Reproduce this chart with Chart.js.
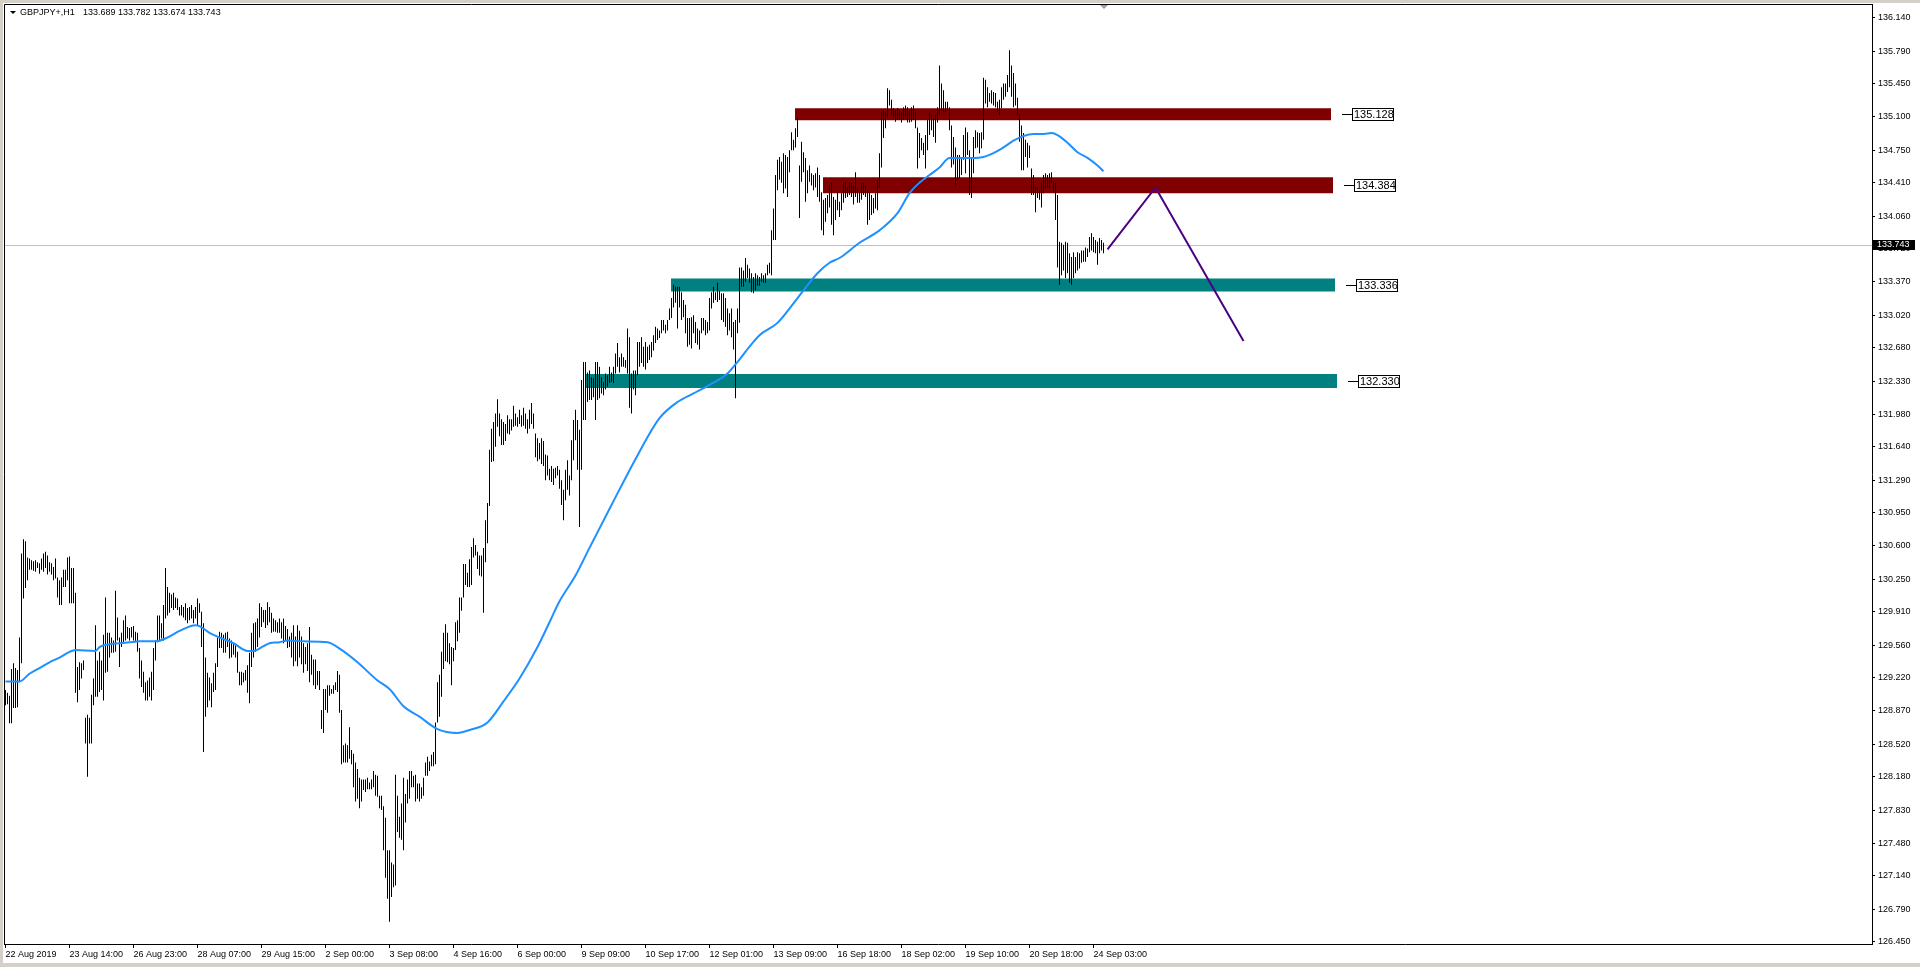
<!DOCTYPE html>
<html>
<head>
<meta charset="utf-8">
<style>
  html, body { margin: 0; padding: 0; background: #fff; overflow: hidden; }
  #wrap { position: absolute; left: 0; top: 0; width: 1920px; height: 967px; }
</style>
</head>
<body>
<div id="wrap"><canvas id="chart" width="1920" height="967"></canvas></div>
<script src="https://cdn.jsdelivr.net/npm/chart.js@4"></script>
<script>
// header values
const symbol = 'GBPJPY+,H1';
const lastOHLC = [133.689, 133.782, 133.674, 133.743];

// H1 bars, high / low read bar by bar
const highs = [
  129.09,129.06,129.03,129.31,129.37,129.32,129.30,129.64,130.52,130.67,
  130.65,130.48,130.47,130.45,130.44,130.45,130.43,130.42,130.47,130.52,
  130.54,130.50,130.43,130.42,130.38,130.47,130.27,130.24,130.27,130.35,
  130.35,130.48,130.49,130.37,130.37,130.11,129.33,129.38,129.37,129.40,
  128.80,128.83,128.80,129.04,129.21,129.77,129.40,129.49,129.40,129.67,
  130.06,129.69,129.69,129.64,129.61,130.13,129.85,129.64,129.69,129.82,
  129.87,129.75,129.74,129.75,129.76,129.70,129.69,129.53,129.40,129.28,
  129.17,129.19,129.22,129.28,129.53,129.61,129.87,129.87,129.79,129.98,
  130.37,130.17,130.11,130.09,130.11,130.06,130.05,129.96,129.98,129.96,
  130.00,129.95,129.96,129.98,129.93,129.96,130.05,130.00,129.91,129.79,
  129.43,129.27,129.22,129.16,129.27,129.37,129.64,129.70,129.69,129.67,
  129.69,129.70,129.63,129.61,129.58,129.56,129.49,129.28,129.28,129.27,
  129.30,129.35,129.48,129.69,129.79,129.80,129.84,130.00,129.96,129.93,
  129.93,130.01,129.96,129.90,129.84,129.82,129.80,129.84,129.80,129.84,
  129.76,129.73,129.65,129.69,129.77,129.65,129.77,129.71,129.65,129.58,
  129.54,129.58,129.75,129.46,129.41,129.41,129.29,129.29,128.88,129.10,
  129.10,129.14,129.14,129.10,129.14,129.17,129.29,129.25,128.88,128.51,
  128.53,128.51,128.70,128.46,128.42,128.33,128.26,128.17,128.15,128.15,
  128.15,128.17,128.12,128.15,128.24,128.20,128.19,127.98,127.98,127.87,
  127.75,127.41,127.41,127.28,127.26,128.20,127.98,127.76,127.90,128.17,
  128.00,128.15,128.24,128.24,128.19,128.20,128.11,128.11,128.07,128.17,
  128.33,128.39,128.34,128.41,128.44,128.75,129.17,129.25,129.49,129.69,
  129.78,129.69,129.58,129.54,129.53,129.80,129.82,130.06,130.06,130.41,
  130.41,130.32,130.46,130.59,130.68,130.61,130.54,130.50,130.50,130.58,
  130.87,131.05,131.61,131.83,131.90,131.99,132.14,131.99,131.93,131.90,
  131.88,131.97,131.93,131.93,132.07,131.99,131.95,132.03,131.97,132.05,
  131.99,131.93,132.03,132.10,131.99,131.78,131.73,131.68,131.73,131.70,
  131.56,131.55,131.41,131.44,131.41,131.42,131.44,131.40,131.29,131.19,
  131.40,131.50,131.34,131.71,131.92,132.03,131.92,131.82,132.34,132.53,
  132.53,132.42,132.44,132.37,132.36,132.53,132.53,132.48,132.37,132.32,
  132.41,132.39,132.48,132.42,132.48,132.62,132.73,132.58,132.62,132.58,
  132.55,132.88,132.79,132.41,132.44,132.44,132.74,132.74,132.79,132.69,
  132.74,132.69,132.71,132.74,132.81,132.90,132.88,132.86,132.97,132.97,
  132.92,132.97,133.09,133.20,133.34,133.32,133.32,133.32,133.26,133.18,
  133.13,132.99,132.99,133.00,133.02,132.95,132.88,132.86,132.99,132.99,
  132.97,132.95,133.20,133.26,133.32,133.26,133.36,133.28,133.25,133.25,
  133.20,133.09,133.04,133.09,132.95,132.97,133.09,133.52,133.52,133.49,
  133.62,133.55,133.51,133.46,133.42,133.46,133.44,133.42,133.46,133.44,
  133.46,133.55,133.57,133.91,134.14,134.49,134.65,134.68,134.63,134.72,
  134.70,134.68,134.75,134.94,134.86,134.98,135.09,134.59,134.84,134.73,
  134.67,134.54,134.59,134.51,134.49,134.51,134.57,134.49,134.31,134.23,
  134.25,134.28,134.38,134.41,134.26,134.23,134.31,134.21,134.30,134.41,
  134.42,134.36,134.41,134.41,134.38,134.52,134.35,134.31,134.41,134.41,
  134.38,134.33,134.31,134.28,134.25,134.30,134.44,134.72,135.15,135.17,
  135.15,135.40,135.38,135.28,135.19,135.17,135.19,135.17,135.15,135.20,
  135.22,135.20,135.17,135.20,135.22,135.15,134.99,134.93,134.88,134.83,
  134.91,135.07,135.15,135.12,135.09,135.12,135.20,135.64,135.45,135.38,
  135.26,135.26,135.20,135.01,134.89,134.78,134.70,134.70,134.67,134.91,
  134.99,134.94,134.75,134.67,134.89,134.96,134.94,134.93,134.94,135.51,
  135.49,135.41,135.35,135.38,135.36,135.35,135.26,135.28,135.41,135.45,
  135.45,135.54,135.80,135.64,135.56,135.45,135.30,135.12,135.01,134.93,
  134.86,134.83,134.80,134.56,134.49,134.36,134.36,134.33,134.41,134.49,
  134.51,134.49,134.51,134.52,134.42,134.41,134.28,133.79,133.78,133.76,
  133.79,133.78,133.67,133.63,133.68,133.63,133.68,133.67,133.70,133.70,
  133.73,133.72,133.84,133.88,133.84,133.81,133.79,133.83,133.81,133.78
];
const lows = [
  128.93,128.94,128.74,128.74,128.90,128.90,128.91,129.17,129.37,130.05,
  130.16,130.24,130.35,130.35,130.34,130.33,130.37,130.31,130.35,130.33,
  130.37,130.30,130.33,130.30,130.24,130.26,130.06,129.98,129.98,130.17,
  130.17,130.24,130.00,130.00,130.00,129.06,128.96,129.09,129.21,129.30,
  128.53,128.18,128.53,128.53,128.93,129.02,129.02,129.07,129.09,128.98,
  129.27,129.28,129.43,129.48,129.48,129.49,129.61,129.33,129.54,129.58,
  129.61,129.63,129.61,129.64,129.61,129.59,129.49,129.21,129.12,129.06,
  128.98,128.98,129.02,128.98,129.09,129.40,129.59,129.61,129.63,129.61,
  129.84,129.87,129.90,129.95,129.93,129.95,129.93,129.87,129.87,129.85,
  129.82,129.79,129.82,129.84,129.79,129.84,129.77,129.90,129.54,128.44,
  128.81,128.91,128.98,128.91,129.07,129.09,129.33,129.53,129.53,129.48,
  129.48,129.54,129.42,129.43,129.46,129.43,129.27,129.14,129.14,129.17,
  129.19,129.06,128.95,129.33,129.43,129.49,129.54,129.64,129.75,129.80,
  129.74,129.77,129.80,129.69,129.70,129.70,129.69,129.69,129.63,129.58,
  129.60,129.53,129.54,129.43,129.34,129.39,129.34,129.43,129.36,129.27,
  129.36,129.29,129.17,129.25,129.14,129.10,129.14,129.09,128.68,128.64,
  128.88,128.85,129.03,129.05,129.05,129.09,129.07,128.85,128.31,128.33,
  128.33,128.33,128.37,128.31,128.07,127.92,127.95,127.85,127.92,128.04,
  128.02,128.05,128.05,128.05,128.07,127.98,127.97,127.85,127.83,127.41,
  127.12,126.90,126.66,126.92,127.02,127.04,127.60,127.54,127.52,127.41,
  127.70,127.90,127.95,128.07,128.07,127.92,127.95,127.92,127.95,127.98,
  128.19,128.19,128.24,128.29,128.29,128.31,128.75,128.81,129.02,129.31,
  129.39,129.38,129.36,129.14,129.39,129.51,129.60,129.69,129.92,130.06,
  130.19,130.17,130.17,130.19,130.48,130.50,130.36,130.29,130.28,129.90,
  130.43,130.63,131.02,131.48,131.49,131.64,131.85,131.75,131.66,131.66,
  131.70,131.78,131.77,131.81,131.85,131.86,131.85,131.88,131.85,131.86,
  131.83,131.78,131.83,131.88,131.83,131.53,131.49,131.51,131.46,131.44,
  131.29,131.34,131.29,131.27,131.24,131.31,131.34,131.20,131.03,130.87,
  131.08,131.19,131.13,131.29,131.50,131.71,131.40,130.80,131.40,131.92,
  131.92,132.11,132.13,132.13,132.16,131.92,132.13,132.15,132.20,132.18,
  132.24,132.27,132.31,132.32,132.31,132.41,132.48,132.42,132.48,132.48,
  132.47,132.41,132.05,131.99,132.24,132.18,132.39,132.48,132.52,132.48,
  132.45,132.52,132.55,132.58,132.65,132.73,132.76,132.78,132.83,132.86,
  132.83,132.86,132.97,132.99,133.10,133.15,132.88,133.10,132.97,133.00,
  132.83,132.69,132.71,132.67,132.83,132.73,132.71,132.66,132.83,132.86,
  132.81,132.83,132.86,133.09,133.15,133.18,133.16,133.18,132.97,132.95,
  132.90,132.81,132.86,132.79,132.66,132.15,132.83,132.94,133.32,133.32,
  133.37,133.41,133.36,133.26,133.25,133.28,133.33,133.33,133.37,133.36,
  133.36,133.44,133.46,133.44,133.81,133.81,134.33,134.44,134.41,134.30,
  134.35,134.26,134.52,134.75,134.75,134.78,134.89,134.04,134.42,134.52,
  134.21,134.30,134.42,134.38,134.33,134.36,134.26,134.21,133.91,133.86,
  134.00,134.09,134.15,133.97,133.86,134.02,134.12,134.05,134.12,134.20,
  134.25,134.26,134.28,134.26,134.18,134.26,134.20,134.20,134.23,134.28,
  134.26,133.97,134.02,134.07,134.09,134.14,134.12,134.36,134.57,134.88,
  134.98,135.09,135.22,135.12,135.09,135.05,135.07,135.07,135.04,135.07,
  135.09,135.04,135.04,135.05,135.07,134.98,134.56,134.67,134.75,134.70,
  134.56,134.75,134.91,134.96,134.89,134.83,135.04,135.12,135.17,135.15,
  135.15,135.17,134.96,134.57,134.60,134.38,134.44,134.46,134.49,134.65,
  134.51,134.70,134.28,134.25,134.51,134.77,134.78,134.72,134.77,134.86,
  135.24,135.20,135.26,135.24,135.22,135.20,135.15,135.12,135.19,135.28,
  135.31,135.36,135.41,135.31,135.20,135.22,135.12,134.84,134.54,134.54,
  134.68,134.57,134.67,134.28,134.28,134.10,134.25,134.23,134.15,134.30,
  134.35,134.36,134.35,134.41,134.31,134.02,133.52,133.34,133.44,133.49,
  133.41,133.46,133.36,133.34,133.41,133.46,133.49,133.51,133.57,133.58,
  133.58,133.63,133.68,133.70,133.68,133.67,133.55,133.67,133.70,133.67
];

// moving average, read at these bar positions
const maBars = [0,7,12,17,22,27,32,35,45,47,52,57,62,67,75,81,87,95,97,102,
  107,114,121,124,129,132,137,141,149,161,168,176,186,192,199,207,216,226,232,241,
  249,257,266,272,277,285,292,303,316,327,336,344,352,361,366,372,377,386,392,399,
  406,412,417,427,437,446,452,457,462,467,472,477,484,489,494,499,504,509,514,519,
  523,526,531,536,541,546,549];
const maValues = [129.18,129.18,129.26,129.32,129.38,129.43,129.49,129.51,129.50,129.54,
  129.57,129.58,129.59,129.60,129.60,129.64,129.71,129.77,129.76,129.69,
  129.64,129.58,129.50,129.50,129.55,129.58,129.59,129.61,129.60,129.59,
  129.51,129.38,129.19,129.10,128.92,128.81,128.68,128.64,128.67,128.75,
  128.97,129.21,129.54,129.80,130.02,130.29,130.58,131.03,131.55,131.94,
  132.11,132.20,132.29,132.41,132.53,132.69,132.81,132.94,133.09,133.28,
  133.46,133.57,133.62,133.78,133.91,134.09,134.30,134.41,134.49,134.57,
  134.67,134.67,134.67,134.68,134.72,134.78,134.85,134.90,134.92,134.92,
  134.93,134.91,134.83,134.73,134.67,134.59,134.53];

// x axis labels, one every 32 bars
const timeLabels = ['22 Aug 2019','23 Aug 14:00','26 Aug 23:00','28 Aug 07:00','29 Aug 15:00',
  '2 Sep 00:00','3 Sep 08:00','4 Sep 16:00','6 Sep 00:00','9 Sep 09:00','10 Sep 17:00',
  '12 Sep 01:00','13 Sep 09:00','16 Sep 18:00','18 Sep 02:00','19 Sep 10:00','20 Sep 18:00','24 Sep 03:00'];
const labelStep = 32;

// price axis labels
const priceTicks = ['136.140','135.790','135.450','135.100','134.750','134.410','134.060','133.720',
  '133.370','133.020','132.680','132.330','131.980','131.640','131.290','130.950','130.600',
  '130.250','129.910','129.560','129.220','128.870','128.520','128.180','127.830','127.480',
  '127.140','126.790','126.450'];

// support / resistance zones (level, first bar, last bar)
const bandLevels = [135.128, 134.384, 133.336, 132.330];
const bandFrom = [394.75, 408.75, 332.75, 289.75];
const bandTo = [662.75, 663.75, 664.75, 665.75];

// projected path
const pathBars = [551, 575, 619];
const pathValues = [133.71, 134.36, 132.75];

// styles
const FONT = "'Liberation Sans', Arial, sans-serif";
const bandColors = ['#800000', '#800000', '#008080', '#008080'];
const bandThick = [12, 16, 13, 14];

const bandSets = bandLevels.map((lv, k) => ({
  type: 'line',
  data: [{x: bandFrom[k], y: lv}, {x: bandTo[k], y: lv}],
  borderColor: bandColors[k],
  borderWidth: bandThick[k],
  borderCapStyle: 'butt',
  pointRadius: 0,
  fill: false,
  order: 5
}));

const mtPlugin = {
  id: 'mtPlugin',
  beforeDraw(chart) {
    const ctx = chart.ctx;
    ctx.save();
    ctx.fillStyle = '#ffffff';
    ctx.fillRect(0, 0, chart.width, chart.height);
    ctx.fillStyle = '#d4d0c8';
    ctx.fillRect(0, 0, chart.width, 3);
    ctx.fillRect(0, 0, 3, chart.height);
    ctx.fillRect(0, chart.height - 4, chart.width, 4);
    ctx.restore();
  },
  beforeDatasetsDraw(chart) {
    const {ctx, chartArea: a, scales: {y}} = chart;
    const py = Math.round(y.getPixelForValue(lastOHLC[3])) - 0.5;
    ctx.save();
    ctx.strokeStyle = '#c0c0c0';
    ctx.lineWidth = 1;
    ctx.beginPath();
    ctx.moveTo(a.left, py);
    ctx.lineTo(a.right, py);
    ctx.stroke();
    ctx.restore();
  },
  afterDraw(chart) {
    const {ctx, chartArea: a, scales: {x, y}} = chart;
    ctx.save();
    // frame left / top
    ctx.strokeStyle = '#000';
    ctx.lineWidth = 1;
    ctx.beginPath();
    ctx.moveTo(a.left + 0.5, a.bottom);
    ctx.lineTo(a.left + 0.5, a.top + 0.5);
    ctx.lineTo(a.right, a.top + 0.5);
    ctx.stroke();

    // header
    ctx.fillStyle = '#000';
    ctx.beginPath();
    ctx.moveTo(10, 11); ctx.lineTo(16, 11); ctx.lineTo(13, 14); ctx.closePath();
    ctx.fill();
    ctx.font = '9px ' + FONT;
    ctx.textBaseline = 'middle';
    ctx.textAlign = 'left';
    ctx.fillText(symbol, 20, 13);
    ctx.fillText(lastOHLC.map(v => v.toFixed(3)).join(' '), 83, 13);

    // chart shift marker
    const sx = Math.round(x.getPixelForValue(highs.length - 1));
    ctx.fillStyle = '#a0a0a0';
    ctx.beginPath();
    ctx.moveTo(sx - 4, a.top + 1); ctx.lineTo(sx + 4, a.top + 1); ctx.lineTo(sx, a.top + 5); ctx.closePath();
    ctx.fill();

    // zone price labels
    ctx.font = '11px ' + FONT;
    bandLevels.forEach((lv, k) => {
      const ex = Math.round(x.getPixelForValue(bandTo[k]));
      const py = Math.round(y.getPixelForValue(lv));
      ctx.strokeStyle = '#000';
      ctx.beginPath();
      ctx.moveTo(ex + 11, py + 0.5); ctx.lineTo(ex + 21, py + 0.5);
      ctx.stroke();
      ctx.fillStyle = '#fff';
      ctx.fillRect(ex + 21, py - 6, 42, 13);
      ctx.strokeRect(ex + 21.5, py - 5.5, 41, 12);
      ctx.fillStyle = '#000';
      ctx.fillText(lv.toFixed(3), ex + 23, py + 1);
    });

    // current price box on the axis
    const cy = Math.round(y.getPixelForValue(lastOHLC[3])) - 1;
    ctx.fillStyle = '#000';
    ctx.fillRect(a.right + 1, cy - 5, 42, 10);
    ctx.fillStyle = '#fff';
    ctx.font = '9px ' + FONT;
    ctx.fillText(lastOHLC[3].toFixed(3), a.right + 5, cy);
    ctx.restore();
  }
};

const ctx = document.getElementById('chart').getContext('2d');
const chart = new Chart(ctx, {
  type: 'bar',
  data: {
    datasets: [
      ...bandSets,
      {
        type: 'bar',
        data: highs.map((h, i) => ({x: i, y: [lows[i], h]})),
        backgroundColor: '#000000',
        borderWidth: 0,
        barThickness: 1,
        inflateAmount: 0,
        grouped: false,
        order: 4
      },
      {
        type: 'line',
        data: maBars.map((b, k) => ({x: b, y: maValues[k]})),
        borderColor: '#1e90ff',
        borderWidth: 2,
        pointRadius: 0,
        cubicInterpolationMode: 'monotone',
        fill: false,
        order: 3
      },
      {
        type: 'line',
        data: pathBars.map((b, k) => ({x: b, y: pathValues[k]})),
        borderColor: '#4b0082',
        borderWidth: 2,
        pointRadius: 0,
        tension: 0,
        fill: false,
        order: 2
      }
    ]
  },
  options: {
    responsive: false,
    devicePixelRatio: 1,
    animation: false,
    events: [],
    layout: { padding: { left: 4, top: 4, right: 0, bottom: 0 } },
    plugins: { legend: { display: false }, tooltip: { enabled: false } },
    scales: {
      x: {
        type: 'linear',
        min: -0.75,
        max: 933.25,
        offset: false,
        grid: { drawOnChartArea: false, color: '#000', tickLength: 4, offset: false },
        border: { color: '#000' },
        ticks: {
          autoSkip: false,
          maxRotation: 0,
          align: 'start',
          padding: 1,
          color: '#000',
          font: { family: FONT, size: 9 },
          callback: (v) => timeLabels[Math.round(v / labelStep)]
        },
        afterBuildTicks: (s) => { s.ticks = timeLabels.map((t, k) => ({value: k * labelStep})); },
        afterFit: (s) => { s.height = 23; s.paddingLeft = 0; s.paddingRight = 0; }
      },
      y: {
        type: 'linear',
        position: 'right',
        min: 126.426,
        max: 136.284,
        grid: { drawOnChartArea: false, color: '#000', tickLength: 3 },
        border: { color: '#000' },
        ticks: {
          padding: 3,
          color: '#000',
          font: { family: FONT, size: 9 },
          callback: (v, k) => priceTicks[k]
        },
        afterBuildTicks: (s) => { s.ticks = priceTicks.map(t => ({value: parseFloat(t)})); },
        afterFit: (s) => { s.width = 48; s.paddingTop = 0; s.paddingBottom = 0; }
      }
    }
  },
  plugins: [mtPlugin]
});
</script>
</body>
</html>
